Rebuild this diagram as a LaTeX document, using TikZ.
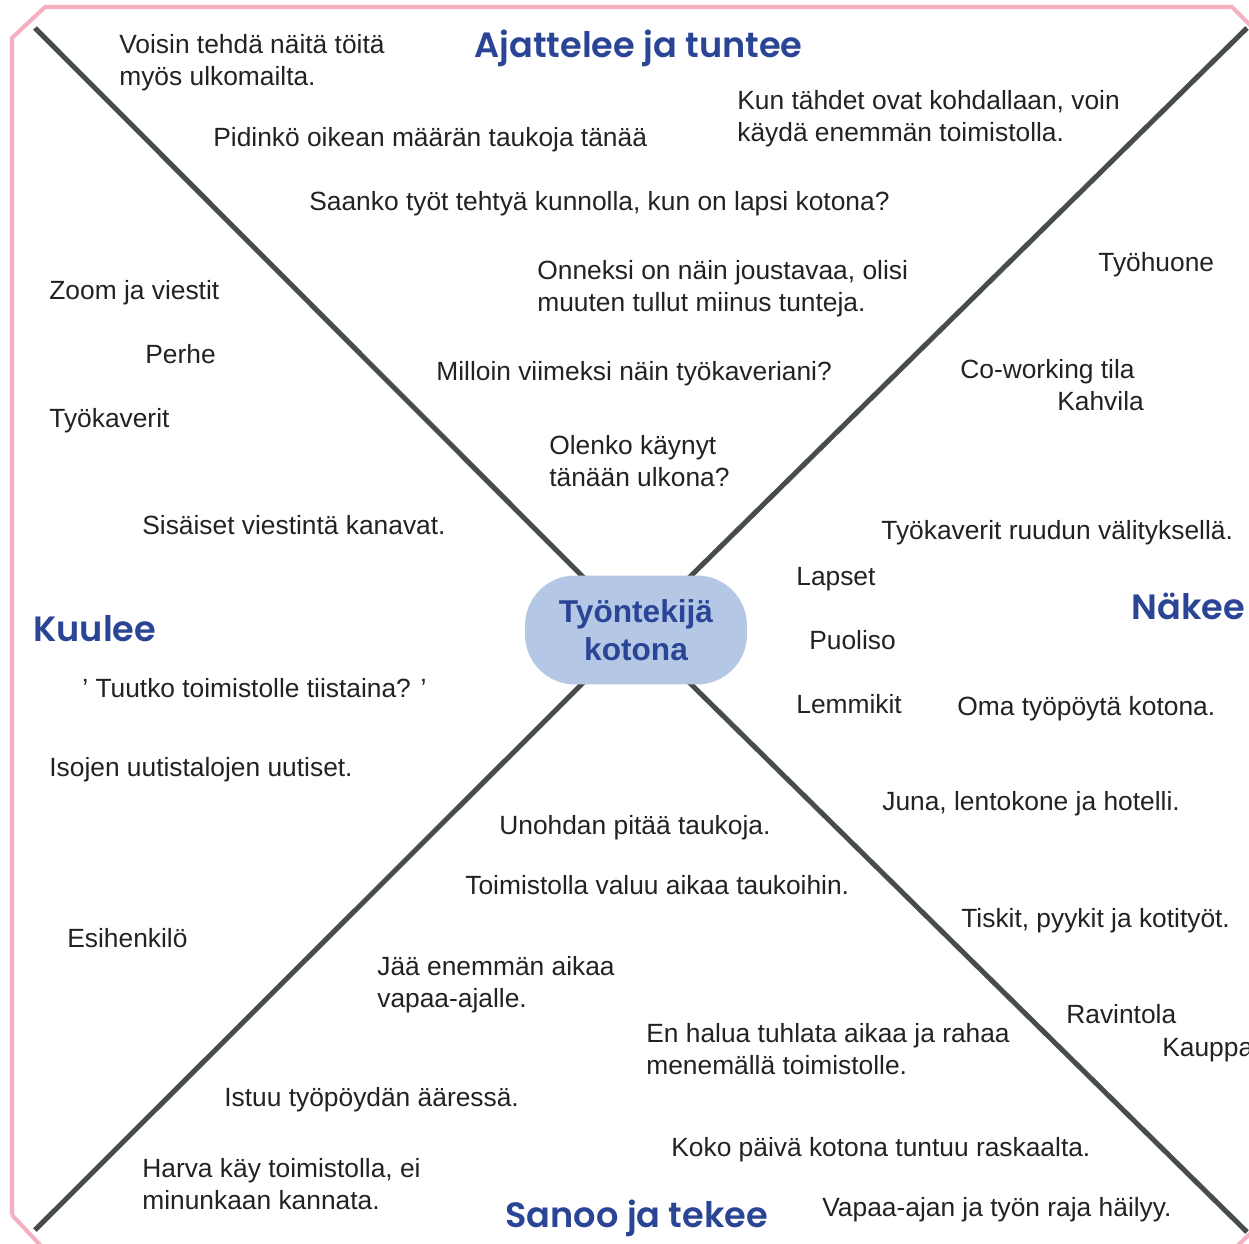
\documentclass[tikz,border=0pt]{standalone}
\usepackage{fontspec}
\setmainfont{Liberation Sans}
\newfontfamily\titlefont{Poppins}[UprightFont=* SemiBold, BoldFont=* SemiBold]
\usepackage{xcolor}
\definecolor{framepink}{HTML}{F4AFC0}
\definecolor{axisgray}{HTML}{474E49}
\definecolor{titleblue}{HTML}{2B4596}
\definecolor{hubblue}{HTML}{B4C8E6}
\definecolor{notegray}{HTML}{222222}

\begin{document}
\begin{tikzpicture}[
            x=0.02cm, y=-0.02cm,
            note/.style={anchor=base west, inner sep=0pt, align=left, text=notegray,
                font=\fontsize{15}{18.2}\selectfont},
            quarter/.style={anchor=base west, inner sep=0pt, text=titleblue,
                font=\titlefont\fontsize{20}{24}\selectfont},
            hub/.style={rounded corners=1cm, fill=hubblue, minimum width=4.44cm,
                minimum height=2.18cm, align=center, text=titleblue,
                font=\bfseries\fontsize{18}{21.6}\selectfont},
            axis/.style={draw=axisgray, line width=2.85pt},
            frame/.style={draw=framepink, line width=2.3pt},
        ]
            \useasboundingbox (0,0) rectangle (1249,1244);
            \fill[white] (0,0) rectangle (1249,1244);
            % frame
            \draw[frame] (12,1215) -- (12,38) -- (45,7) -- (1232,7) -- (1252,27);
            \draw[frame] (12,1215) -- (42,1247);
            \draw[frame] (1236,1247) -- (1252,1232);
            % axes
            \coordinate (mid) at (636,630);
            \coordinate (tl) at (35,28);
            \coordinate (tr) at (1247,28);
            \coordinate (bl) at (35,1230);
            \coordinate (br) at (1247,1232);
            \draw[axis] (tl) -- (mid);
            \draw[axis] (tr) -- (mid);
            \draw[axis] (bl) -- (mid);
            \draw[axis] (br) -- (mid);
            \node[hub] (hub) at (mid) {Työntekijä\\kotona};
            % titles
            \node[quarter] (thinks) at (474,57) {Ajattelee ja tuntee};
            \node[quarter] (hears) at (33,641) {Kuulee};
            \node[quarter] (sees) at (1131,619) {Näkee};
            \node[quarter] (says) at (505,1227) {Sanoo ja tekee};
            % ajattelee ja tuntee (two-line notes sit on their last baseline)
            \node[note] (abroad) at (119,85) {Voisin tehdä näitä töitä\\myös ulkomailta.};
            \node[note] (stars) at (737,141) {Kun tähdet ovat kohdallaan, voin\\käydä enemmän toimistolla.};
            \node[note] (breaks) at (213,146) {Pidinkö oikean määrän taukoja tänää};
            \node[note] (child) at (309,210) {Saanko työt tehtyä kunnolla, kun on lapsi kotona?};
            \node[note] (flex) at (537,311) {Onneksi on näin joustavaa, olisi\\muuten tullut miinus tunteja.};
            \node[note] (lastseen) at (436,380) {Milloin viimeksi näin työkaveriani?};
            \node[note] (outside) at (549,486) {Olenko käynyt\\tänään ulkona?};
            % kuulee
            \node[note] (zoom) at (49,299) {Zoom ja viestit};
            \node[note] (family) at (145,363) {Perhe};
            \node[note] (mates) at (49,427) {Työkaverit};
            \node[note] (channels) at (142,534) {Sisäiset viestintä kanavat.};
            \node[note] (tuesday) at (82,697) {’ Tuutko toimistolle tiistaina? ’};
            \node[note] (news) at (49,776) {Isojen uutistalojen uutiset.};
            \node[note] (boss) at (67,947) {Esihenkilö};
            % näkee
            \node[note] (study) at (1098,271) {Työhuone};
            \node[note] (cowork) at (960,378) {Co-working tila};
            \node[note] (cafe) at (1057,410) {Kahvila};
            \node[note] (screen) at (881,539) {Työkaverit ruudun välityksellä.};
            \node[note] (kids) at (796,585) {Lapset};
            \node[note] (spouse) at (809,649) {Puoliso};
            \node[note] (pets) at (796,713) {Lemmikit};
            \node[note] (desk) at (957,715) {Oma työpöytä kotona.};
            \node[note] (travel) at (882,810) {Juna, lentokone ja hotelli.};
            \node[note] (chores) at (961,927) {Tiskit, pyykit ja kotityöt.};
            \node[note] (restaurant) at (1066,1023) {Ravintola};
            \node[note] (shop) at (1162,1056) {Kauppa};
            % sanoo ja tekee
            \node[note] (forget) at (499,834) {Unohdan pitää taukoja.};
            \node[note] (office) at (465,894) {Toimistolla valuu aikaa taukoihin.};
            \node[note] (freetime) at (377,1007) {Jää enemmän aikaa\\vapaa-ajalle.};
            \node[note] (waste) at (646,1074) {En halua tuhlata aikaa ja rahaa\\menemällä toimistolle.};
            \node[note] (sits) at (224,1106) {Istuu työpöydän ääressä.};
            \node[note] (heavy) at (671,1156) {Koko päivä kotona tuntuu raskaalta.};
            \node[note] (few) at (142,1209) {Harva käy toimistolla, ei\\minunkaan kannata.};
            \node[note] (blur) at (822,1216) {Vapaa-ajan ja työn raja häilyy.};
        \end{tikzpicture}
\end{document}
